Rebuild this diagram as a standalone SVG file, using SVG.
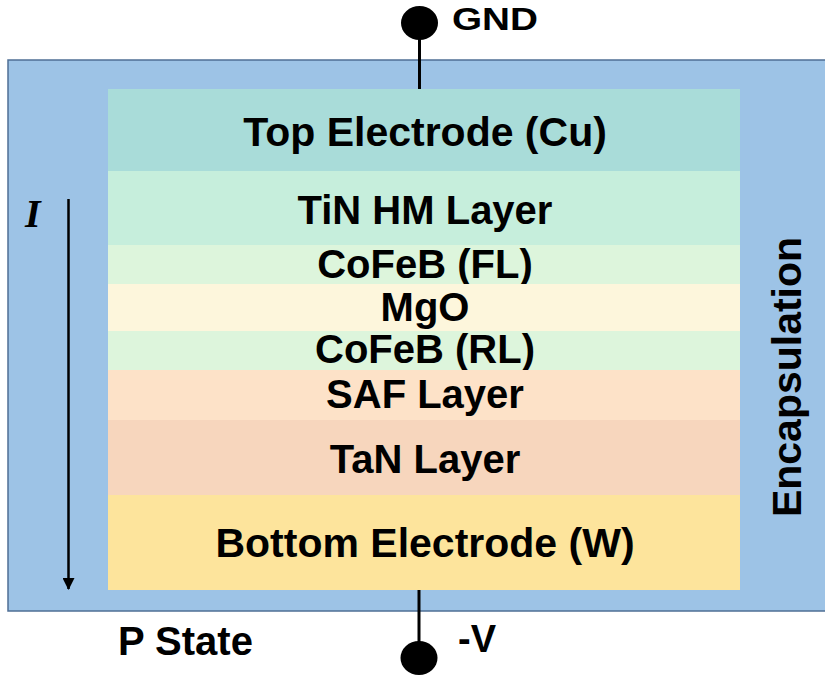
<svg xmlns="http://www.w3.org/2000/svg" width="825" height="681" viewBox="0 0 825 681">
<defs>
<style>
.lbl{font-family:"Liberation Sans",Arial,sans-serif;font-weight:bold;font-size:40px;fill:#000;text-anchor:middle}
.wire{stroke:#000;stroke-width:3;fill:none}
.dot{fill:#000}
</style>
<marker id="ah" viewBox="0 0 12 12" refX="11" refY="6" markerWidth="12" markerHeight="12" markerUnits="userSpaceOnUse" orient="auto">
<path d="M0,0 L12,6 L0,12 Z" fill="#000"/>
</marker>
</defs>
<rect width="825" height="681" fill="#fff"/>
<g id="encapsulation">
<rect x="8" y="60" width="830" height="551" fill="#9dc3e6" stroke="#4f6f95" stroke-width="1.5"/>
<text class="lbl" transform="translate(801,377) rotate(-90)" style="font-size:41px">Encapsulation</text>
</g>
<g id="top-electrode">
<rect x="108" y="89" width="632" height="82" fill="#a9dcd9"/>
<text class="lbl" x="425" y="146" style="font-size:41px">Top Electrode (Cu)</text>
</g>
<g id="tin-hm">
<rect x="108" y="171" width="632" height="74" fill="#c6eedc"/>
<text class="lbl" x="425" y="224">TiN HM Layer</text>
</g>
<g id="cofeb-fl">
<rect x="108" y="245" width="632" height="39" fill="#ddf5dc"/>
<text class="lbl" x="425" y="278">CoFeB (FL)</text>
</g>
<g id="mgo">
<rect x="108" y="284" width="632" height="47" fill="#fdf6dc"/>
<text class="lbl" x="425" y="321">MgO</text>
</g>
<g id="cofeb-rl">
<rect x="108" y="331" width="632" height="39" fill="#ddf5dc"/>
<text class="lbl" x="425" y="363">CoFeB (RL)</text>
</g>
<g id="saf">
<rect x="108" y="370" width="632" height="50" fill="#fde2c8"/>
<text class="lbl" x="425" y="408">SAF Layer</text>
</g>
<g id="tan">
<rect x="108" y="420" width="632" height="75" fill="#f7d6bd"/>
<text class="lbl" x="425" y="473">TaN Layer</text>
</g>
<g id="bottom-electrode">
<rect x="108" y="495" width="632" height="95" fill="#fde49c"/>
<text class="lbl" x="425" y="557" style="font-size:41px">Bottom Electrode (W)</text>
</g>
<g id="gnd">
<ellipse class="dot" cx="419.5" cy="23" rx="18.5" ry="17"/>
<text class="lbl" x="452" y="30" style="text-anchor:start;font-size:32px" textLength="86" lengthAdjust="spacingAndGlyphs">GND</text>
</g>
<g id="neg-v">
<ellipse class="dot" cx="419" cy="658" rx="18.5" ry="17"/>
<text class="lbl" x="458" y="652" style="text-anchor:start;font-size:38px">-V</text>
</g>
<g id="current-label">
<text x="25" y="227" style="font-family:'Liberation Serif','Times New Roman',serif;font-style:italic;font-weight:bold;font-size:40px">I</text>
</g>
<g id="state-label">
<text class="lbl" x="118" y="655" style="text-anchor:start">P State</text>
</g>
<g id="connectors">
<line class="wire" x1="419.5" y1="36" x2="419.5" y2="89"/>
<line class="wire" x1="419" y1="590" x2="419" y2="645"/>
<line x1="68.5" y1="199" x2="68.5" y2="589" stroke="#000" stroke-width="2.5" marker-end="url(#ah)"/>
</g>
</svg>
